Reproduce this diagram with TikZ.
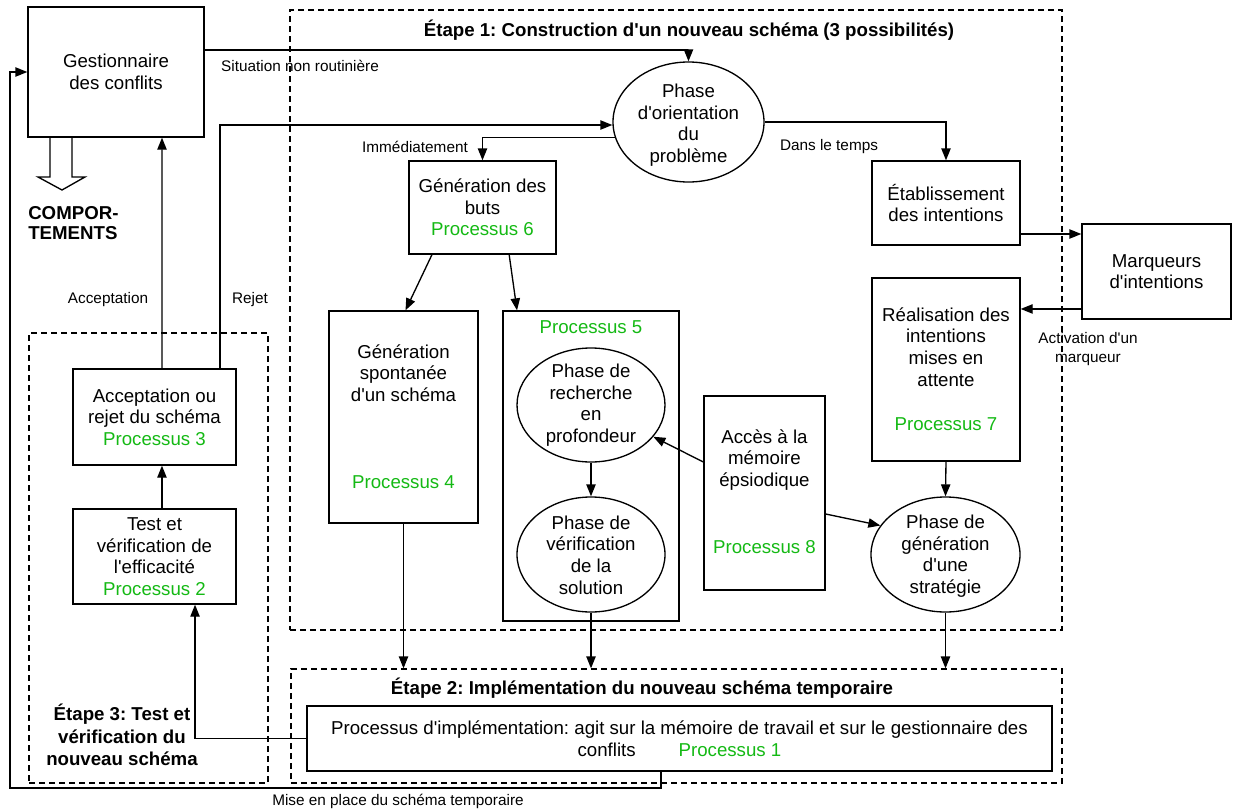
\documentclass[tikz,border=0pt]{standalone}
\usepackage{fontspec}
\setmainfont{Liberation Sans}[Ligatures=TeXOff]
\usetikzlibrary{arrows.meta,shapes.geometric}
\definecolor{pgreen}{RGB}{20,185,20}
\begin{document}
\frenchspacing
\begin{tikzpicture}[x=0.75pt,y=-0.75pt,
  font=\fontsize{14}{16.2}\selectfont\frenchspacing,
  box/.style={draw, line width=1pt, inner sep=2pt, align=center},
  ell/.style={draw, ellipse, line width=1pt, inner sep=0pt},
  dbox/.style={draw, dash pattern=on 4.5pt off 3pt, line width=0.9pt, inner sep=0pt},
  arr/.style={line width=1pt, -{Triangle[length=9pt,width=7pt]}},
  ln/.style={line width=1pt},
  lab/.style={font=\fontsize{11.5}{14}\selectfont\frenchspacing, inner sep=0pt, align=center},
  ttl/.style={font=\fontsize{14}{17}\selectfont\bfseries\frenchspacing, inner sep=0pt, align=center},
  txt/.style={inner sep=0pt, align=center}]
\useasboundingbox (0,0) rectangle (1233,811);

% dashed stage frames
\node[dbox, minimum width=579pt, minimum height=465pt] (e1) at (676,320) {};
\node[dbox, minimum width=578.25pt, minimum height=85.5pt] (e2) at (676.5,726) {};
\node[dbox, minimum width=179.25pt, minimum height=337.5pt] (e3) at (148.5,558) {};

% titles
\node[ttl] (t1) at (689,30) {Étape 1: Construction d'un nouveau schéma (3 possibilités)};
\node[ttl] (t2) at (642,688) {Étape 2: Implémentation du nouveau schéma temporaire};
\node[ttl] (t3) at (122,735) {Étape 3: Test et\\vérification du\\nouveau schéma};
\node[ttl, anchor=west, align=left, font=\fontsize{14}{15}\selectfont\bfseries] (comp) at (28,223) {COMPOR-\\TEMENTS};

% boxes
\node[box, minimum width=132pt, minimum height=97.5pt] (gest) at (116,72) {Gestionnaire\\des conflits};
\node[box, minimum width=110.25pt, minimum height=69.75pt] (buts) at (482.5,207.5) {Génération des\\buts\\\textcolor{pgreen}{Processus 6}};
\node[box, minimum width=111pt, minimum height=63pt] (etab) at (946,203) {Établissement\\des intentions};
\node[box, minimum width=111.75pt, minimum height=71.25pt] (marq) at (1156.5,271.5) {Marqueurs\\d'intentions};
\node[box, minimum width=111pt, minimum height=137.25pt] (real) at (946,369.5) {};
\node[box, minimum width=111.75pt, minimum height=159pt] (spont) at (403.5,417) {};
\node[box, minimum width=132pt, minimum height=232.5pt] (p5) at (591,466) {};
\node[box, minimum width=90.75pt, minimum height=145.5pt] (acces) at (764.5,493) {};
\node[box, minimum width=122.25pt, minimum height=72pt] (accept) at (154.5,417) {Acceptation ou\\rejet du schéma\\\textcolor{pgreen}{Processus 3}};
\node[box, minimum width=122.25pt, minimum height=71.25pt] (test) at (154.5,556.5) {Test et\\vérification de\\l'efficacité\\\textcolor{pgreen}{Processus 2}};
\node[box, minimum width=558.75pt, minimum height=48.75pt] (impl) at (679.5,738.5) {};

% ellipses
\node[ell, minimum width=113.25pt, minimum height=90pt] (orient) at (688.5,122) {};
\node[ell, minimum width=111pt, minimum height=85.5pt] (rech) at (591,405) {};
\node[ell, minimum width=111pt, minimum height=86.25pt] (verif) at (591,554.5) {};
\node[ell, minimum width=111.75pt, minimum height=86.25pt] (strat) at (945.5,554.5) {};

% texts inside
\node[txt] (torient) at (688.5,125) {Phase\\d'orientation\\du\\problème};
\node[txt] (trech) at (591,405) {Phase de\\recherche\\en\\profondeur};
\node[txt] (tverif) at (591,555) {Phase de\\vérification\\de la\\solution};
\node[txt] (tstrat) at (945.5,556) {Phase de\\génération\\d'une\\stratégie};
\node[txt] (treal) at (946,347) {Réalisation des\\intentions\\mises en\\attente};
\node[txt, text=pgreen] (preal) at (946,424) {Processus 7};
\node[txt] (tspont) at (403.5,373) {Génération\\spontanée\\d'un schéma};
\node[txt, text=pgreen] (pspont) at (403.5,482) {Processus 4};
\node[txt, text=pgreen] (pp5) at (591,327) {Processus 5};
\node[txt] (tacces) at (764.5,460) {Accès à la\\mémoire\\épsiodique};
\node[txt, text=pgreen] (pacces) at (764.5,547) {Processus 8};
\node[txt] (timpl) at (679.5,739) {Processus d'implémentation: agit sur la mémoire de travail et sur le gestionnaire des\\conflits\hspace{2.3em}\textcolor{pgreen}{Processus 1}};

% labels
\node[lab] (lsit) at (300,66) {Situation non routinière};
\node[lab] (limm) at (415,147) {Immédiatement};
\node[lab] (ldans) at (829,147) {Dans le temps};
\node[lab] (lact) at (1088,349) {Activation d'un\\marqueur};
\node[lab] (lacc) at (108,300) {Acceptation};
\node[lab] (lrej) at (250,300) {Rejet};
\node[lab] (lmise) at (398,801) {Mise en place du schéma temporaire};

% connectors
\draw[arr] ([yshift=16.5pt]gest.east) -| (orient.north);
\draw[arr] ([xshift=49.125pt]accept.north) |- ([yshift=-2.25pt]orient.west);
\draw[arr] (orient.192) -| (buts.north);
\draw[arr] (orient.east) -| (etab.north);
\draw[arr] ([xshift=-37.9pt]buts.south) -- ([xshift=1.5pt]spont.north);
\draw[arr] ([xshift=20pt]buts.south) -- ([xshift=11pt]p5.north west);
\draw[arr] ([yshift=-23.25pt]etab.east) coordinate (a1) -- (a1 -| marq.west);
\draw[arr] ([yshift=-28.1pt]marq.west) coordinate (a2) -- (a2 -| real.east);
\draw[arr] (real.south) -- (strat.north);
\draw[arr] (rech.south) -- (verif.north);
\draw[arr] ([yshift=23.25pt]acces.west) -- (rech.-27);
\draw[arr] ([yshift=-15.75pt]acces.east) -- (strat.156);
\draw[arr] (spont.south) -- (spont.south |- e2.north);
\draw[arr] (verif.south) -- (verif.south |- e2.north);
\draw[arr] (strat.south) -- (strat.south |- e2.north);
\draw[arr] (impl.west) -| ([xshift=30.4pt]test.south);
\draw[arr] ([xshift=5.6pt]test.north) -- ([xshift=5.6pt]accept.south);
\draw[arr] ([xshift=5.6pt]accept.north) -- ([xshift=34.5pt]gest.south);
\coordinate (c2) at (10,788);
\draw[arr] ([xshift=-13.9pt]impl.south) |- (c2) |- (gest.west);

% hollow output arrow
\draw[ln, line join=miter] (50,137) -- (50,177) -- (38,177) -- (62,190) -- (85,177) -- (72,177) -- (72,137);
\end{tikzpicture}
\end{document}
